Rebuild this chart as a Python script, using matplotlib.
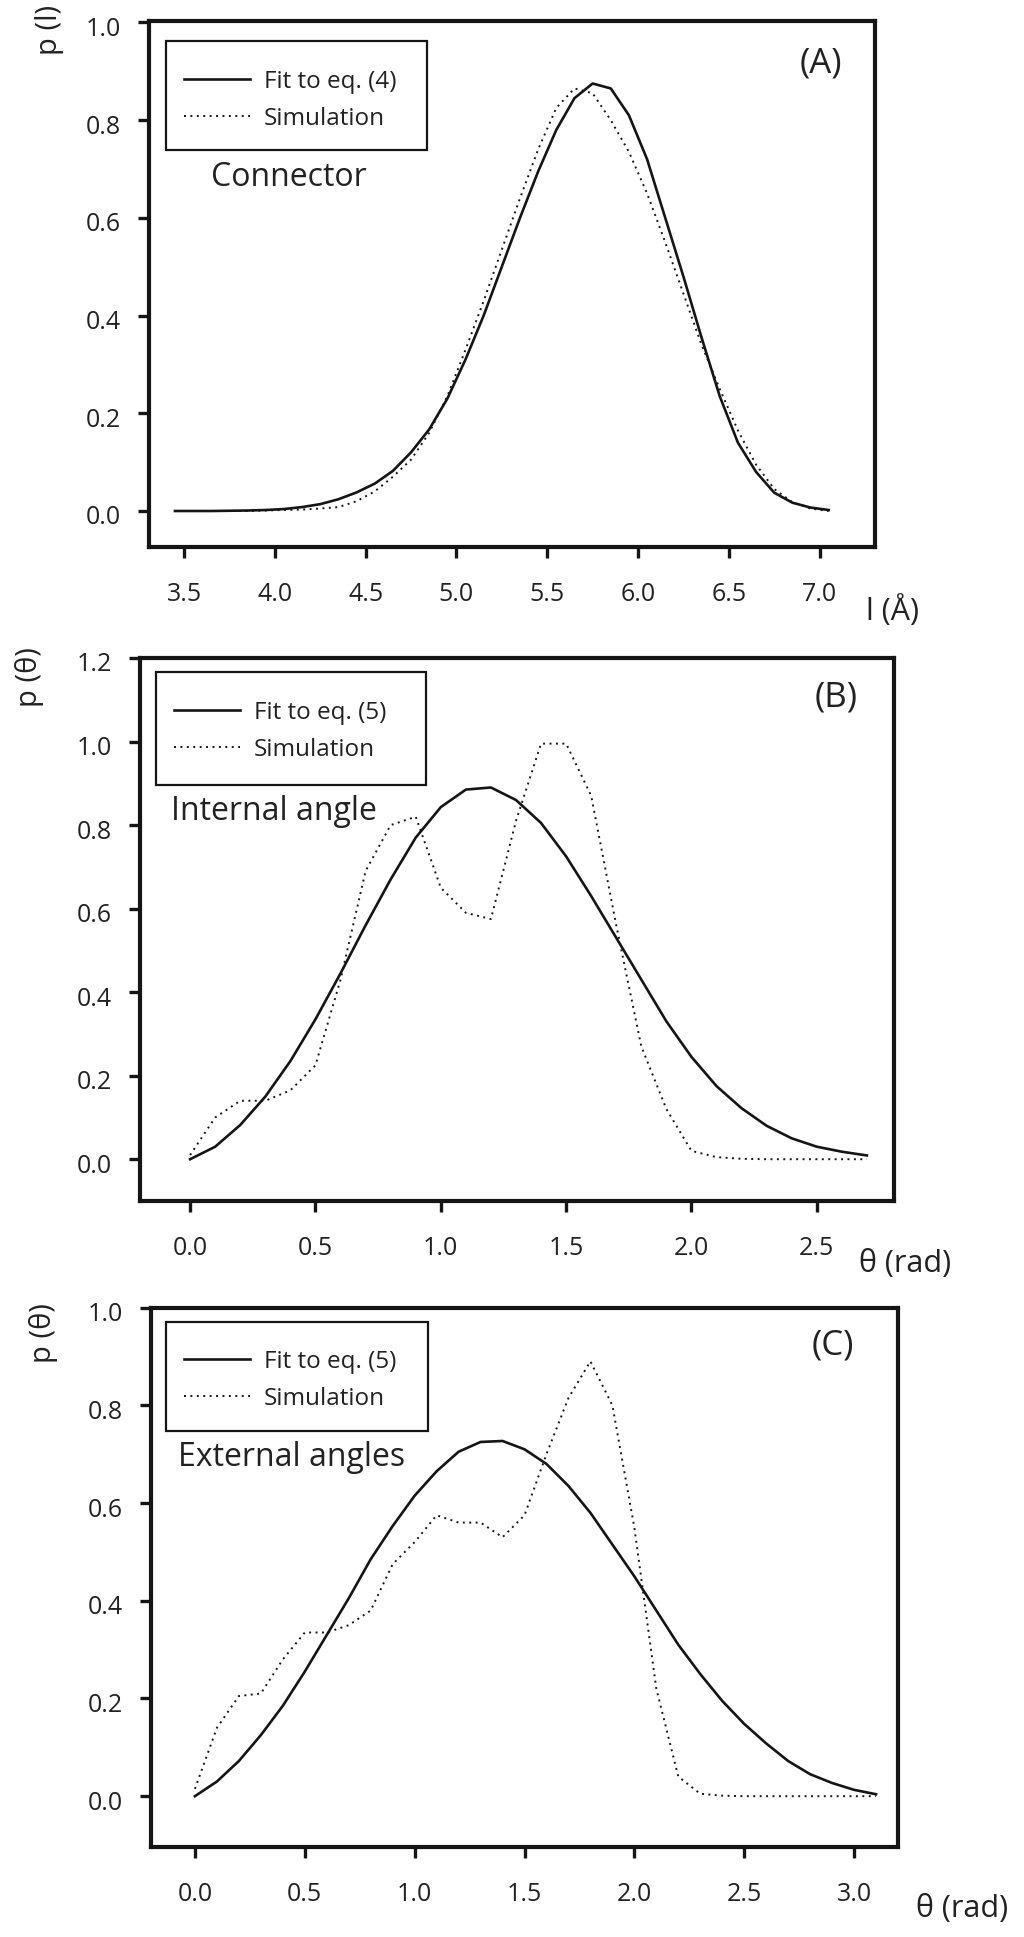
import matplotlib
matplotlib.use("Agg")
import matplotlib.pyplot as plt
from matplotlib.patches import Rectangle
from matplotlib.transforms import ScaledTranslation

W, H = 1024, 1937
plt.rcParams['font.family'] = ['Open Sans', 'DejaVu Sans']

xa = [3.45, 3.55, 3.65, 3.75, 3.85, 3.95, 4.05, 4.15, 4.25, 4.35, 4.45, 4.55, 4.65, 4.75, 4.85, 4.95,
      5.05, 5.15, 5.25, 5.35, 5.45, 5.55, 5.65, 5.75, 5.85, 5.95, 6.05, 6.15, 6.25, 6.35, 6.45, 6.55,
      6.65, 6.75, 6.85, 6.95, 7.05]
fit_a = [0, 0, 0, .0005, .001, .002, .004, .008, .014, .024, .038, .056, .082, .12, .167, .23,
         .31, .40, .50, .60, .695, .78, .845, .875, .865, .81, .72, .60, .48, .355, .235, .14,
         .08, .0375, .017, .007, .002]
sim_a = [0, 0, 0, 0, 0, .001, .002, .003, .005, .008, .02, .04, .07, .105, .16, .235,
         .33, .43, .535, .64, .74, .825, .865, .855, .80, .735, .65, .55, .445, .34, .25, .165,
         .095, .045, .018, .005, 0]

xb = [0, .1, .2, .3, .4, .5, .6, .7, .8, .9, 1.0, 1.1, 1.2, 1.3, 1.4, 1.5, 1.6, 1.7, 1.8, 1.9, 2.0,
      2.1, 2.2, 2.3, 2.4, 2.5, 2.6, 2.7]
fit_b = [0, .03, .082, .15, .235, .335, .445, .56, .67, .77, .843, .885, .89, .86, .805, .725, .63,
         .53, .43, .33, .245, .175, .122, .08, .05, .03, .018, .009]
sim_b = [.01, .1, .14, .14, .165, .225, .43, .69, .80, .82, .65, .59, .575, .81, .995, .995, .87,
         .56, .27, .12, .02, .005, .001, 0, 0, 0, 0, 0]

xc = [0, .1, .2, .3, .4, .5, .6, .7, .8, .9, 1.0, 1.1, 1.2, 1.3, 1.4, 1.5, 1.6, 1.7, 1.8, 1.9, 2.0,
      2.1, 2.2, 2.3, 2.4, 2.5, 2.6, 2.7, 2.8, 2.9, 3.0, 3.1]
fit_c = [0, .03, .072, .125, .185, .255, .33, .405, .485, .553, .615, .665, .705, .725, .727, .71, .68,
         .635, .58, .515, .45, .38, .31, .25, .195, .148, .108, .072, .045, .027, .013, .004]
sim_c = [.015, .14, .205, .21, .28, .335, .335, .35, .38, .475, .52, .575, .56, .56, .53, .575, .70,
         .815, .89, .80, .55, .22, .04, .005, .001, 0, 0, 0, 0, 0, 0, 0]

xticks_a = [3.5, 4.0, 4.5, 5.0, 5.5, 6.0, 6.5, 7.0]
xticks_b = [0.0, 0.5, 1.0, 1.5, 2.0, 2.5]
xticks_c = [0.0, 0.5, 1.0, 1.5, 2.0, 2.5, 3.0]
yticks_a = [0.0, 0.2, 0.4, 0.6, 0.8, 1.0]
yticks_b = [0.0, 0.2, 0.4, 0.6, 0.8, 1.0, 1.2]
yticks_c = [0.0, 0.2, 0.4, 0.6, 0.8, 1.0]

fig = plt.figure(figsize=(W / 100, H / 100), dpi=100, facecolor='white')


def px(x, y):
    return x / W, 1 - y / H


panels = [
    dict(x=xa, fit=fit_a, sim=sim_a, xt=xticks_a, yt=yticks_a, box=(148.6, 21, 875, 547),
         xlim=(3.305, 7.305), ylim=(-0.0737, 1.003), fitlab='Fit to eq. (4)',
         ylab='p (l)', ylab_xy=(49, 30), xlab='l (Å)', xlab_xy=(893, 611),
         tag='(A)', tag_xy=(821, 64), name='Connector', name_xy=(289, 177),
         leg=(166, 41, 427, 150), leg_xy=(184, 70)),
    dict(x=xb, fit=fit_b, sim=sim_b, xt=xticks_b, yt=yticks_b, box=(140, 658, 894, 1201),
         xlim=(-0.2, 2.808), ylim=(-0.1, 1.2), fitlab='Fit to eq. (5)',
         ylab='p (θ)', ylab_xy=(29, 677), xlab='θ (rad)', xlab_xy=(905, 1264),
         tag='(B)', tag_xy=(836, 698), name='Internal angle', name_xy=(274, 811),
         leg=(156, 672, 426, 785), leg_xy=(174, 701)),
    dict(x=xc, fit=fit_c, sim=sim_c, xt=xticks_c, yt=yticks_c, box=(151, 1307.6, 898, 1847),
         xlim=(-0.2, 3.2), ylim=(-0.104, 1.0), fitlab='Fit to eq. (5)',
         ylab='p (θ)', ylab_xy=(44, 1333), xlab='θ (rad)', xlab_xy=(962, 1909),
         tag='(C)', tag_xy=(833, 1345), name='External angles', name_xy=(292, 1458),
         leg=(166, 1322, 428, 1431), leg_xy=(184, 1350)),
]

DOT = (0, (1, 2.3))
for p in panels:
    l, t, r, b = p['box']
    ax = fig.add_axes([l / W, 1 - b / H, (r - l) / W, (b - t) / H])
    ax.plot(p['x'], p['fit'], color='#151515', lw=1.9, label=p['fitlab'])
    ax.plot(p['x'], p['sim'], color='#151515', lw=1.4, ls=DOT, label='Simulation')
    ax.set_xlim(*p['xlim'])
    ax.set_ylim(*p['ylim'])
    ax.set_xticks(p['xt'])
    ax.set_yticks(p['yt'])
    ax.set_xticklabels([f'{v:.1f}' for v in p['xt']])
    ax.set_yticklabels([f'{v:.1f}' for v in p['yt']])
    ax.tick_params(axis='both', direction='out', length=8, width=2.4, labelsize=18,
                   labelcolor='#222222', color='#151515')
    ax.tick_params(axis='x', pad=17)
    ax.tick_params(axis='y', pad=12)
    shift = ScaledTranslation(0, -4 / 100, fig.dpi_scale_trans)
    for lab in ax.get_yticklabels():
        lab.set_transform(lab.get_transform() + shift)
    for s in ax.spines.values():
        s.set_linewidth(3)
        s.set_color('#151515')

    # legend frame and entries
    ll, lt, lr, lb = p['leg']
    fig.add_artist(Rectangle(px(ll, lb), (lr - ll) / W, (lb - lt) / H, transform=fig.transFigure,
                             fill=False, ec='#151515', lw=1.6, zorder=5))
    leg = ax.legend(loc='upper left', bbox_to_anchor=px(*p['leg_xy']),
                    bbox_transform=fig.transFigure, frameon=False, borderpad=0, borderaxespad=0,
                    fontsize=17.5, handlelength=2.7, handletextpad=0.6, labelspacing=0.52,
                    labelcolor='#222222')

    fig.text(*px(*p['ylab_xy']), p['ylab'], rotation=90, ha='center', va='center', fontsize=21, color='#222222')
    fig.text(*px(*p['xlab_xy']), p['xlab'], ha='center', va='center', fontsize=22, color='#222222')
    fig.text(*px(*p['tag_xy']), p['tag'], ha='center', va='center', fontsize=25, color='#222222')
    fig.text(*px(*p['name_xy']), p['name'], ha='center', va='center', fontsize=23, color='#222222')

fig.savefig('out.png', dpi=100, facecolor='white')
